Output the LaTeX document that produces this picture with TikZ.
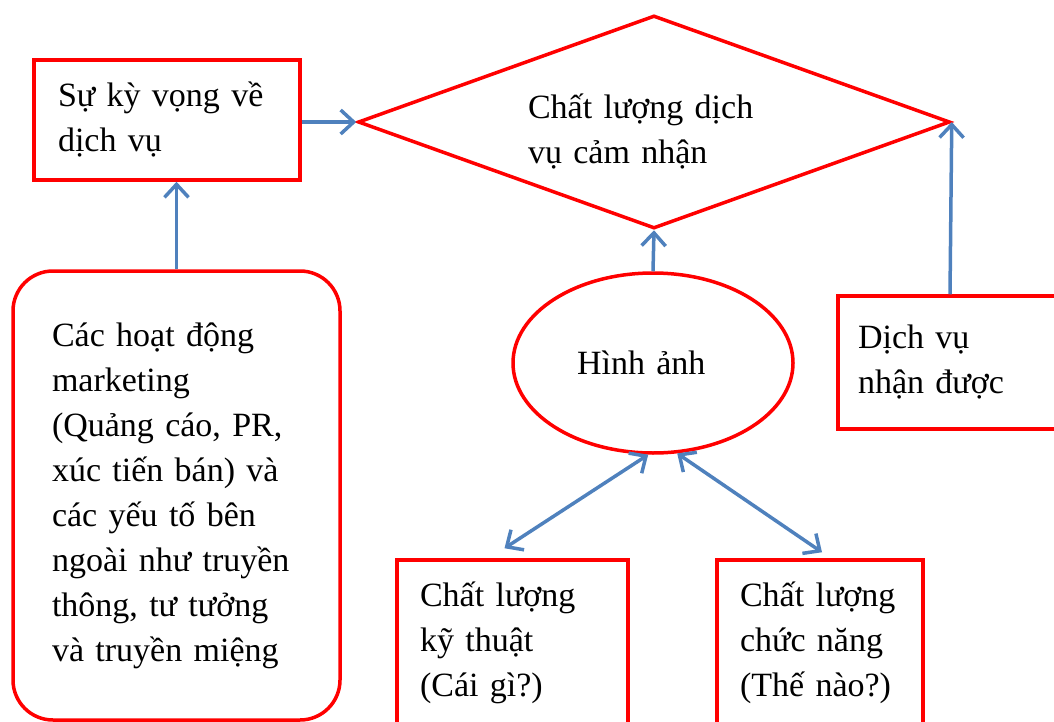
\documentclass[tikz,border=0pt]{standalone}
\usepackage{fontspec}
\setmainfont{Liberation Serif}
\usetikzlibrary{shapes.geometric,arrows.meta,calc}
\definecolor{boxred}{HTML}{FF0000}
\definecolor{linkblue}{HTML}{4F81BD}
\begin{document}
\begin{tikzpicture}[x=1pt,y=-1pt,
  every node/.style={font=\fontsize{34pt}{45pt}\selectfont, text=black},
  outline/.style={draw=boxred, line width=3.5pt},
  frame/.style={outline, rectangle, align=left, inner ysep=0pt},
  link/.style={draw=linkblue, line width=3.5pt, -{Straight Barb[length=13pt,width=24pt]}},
  twoway/.style={link, {Straight Barb[length=13pt,width=24pt]}-{Straight Barb[length=13pt,width=24pt]}},
]
\useasboundingbox (0,0) rectangle (1054,722);
\clip (0,0) rectangle (1054,722);

% expectation box
\node[frame, text width=218pt, inner xsep=24pt, minimum height=120pt] (expect) at (167,120)
  {Sự kỳ vọng về\\dịch vụ};

% perceived quality diamond (strut lowers the two text lines a little)
\node[diamond, outline, aspect=2.78, minimum width=592pt, minimum height=213pt,
      inner sep=0pt, text width=252pt, align=left] (perceived) at (654,122)
  {\rule{0pt}{44pt}Chất lượng dịch\\vụ cảm nhận};

% image ellipse
\node[ellipse, outline, minimum width=280pt, minimum height=180pt, inner sep=0pt,
      text width=152pt, align=left] (image) at (653,363) {Hình ảnh};

% marketing activities
\node[frame, rounded corners=40pt, text width=249pt, inner xsep=39pt, minimum height=449pt] (promo) at (176.5,495.5)
  {Các hoạt động\\marketing\\(Quảng cáo, PR,\\xúc tiến bán) và\\các yếu tố bên\\ngoài như truyền\\thông, tư tưởng\\và truyền miệng};

% received service
\node[frame, text width=184pt, inner xsep=20pt, minimum height=133pt] (received) at (950,362.5)
  {Dịch vụ\\nhận được};

% technical and functional quality
\node[frame, text width=185pt, inner xsep=23pt, minimum height=166pt] (technical) at (512.5,643)
  {Chất lượng\\kỹ thuật\\(Cái gì?)};
\node[frame, text width=160pt, inner xsep=23pt, minimum height=166pt] (functional) at (820,643)
  {Chất lượng\\chức năng\\(Thế nào?)};

% connectors
\draw[link] (expect.east |- perceived.west) -- (perceived.west);
\draw[link] (promo.north) -- (promo.north |- expect.south);
\draw[link] (image.north) -- (perceived.south);
\draw[link] (received.north) -- (perceived.east);
\draw[twoway] (image.-93) -- ([shift={(-8,-10)}]technical.north);
\draw[twoway] (image.-75) -- ([shift={(2,-6)}]functional.north);
\end{tikzpicture}
\end{document}
